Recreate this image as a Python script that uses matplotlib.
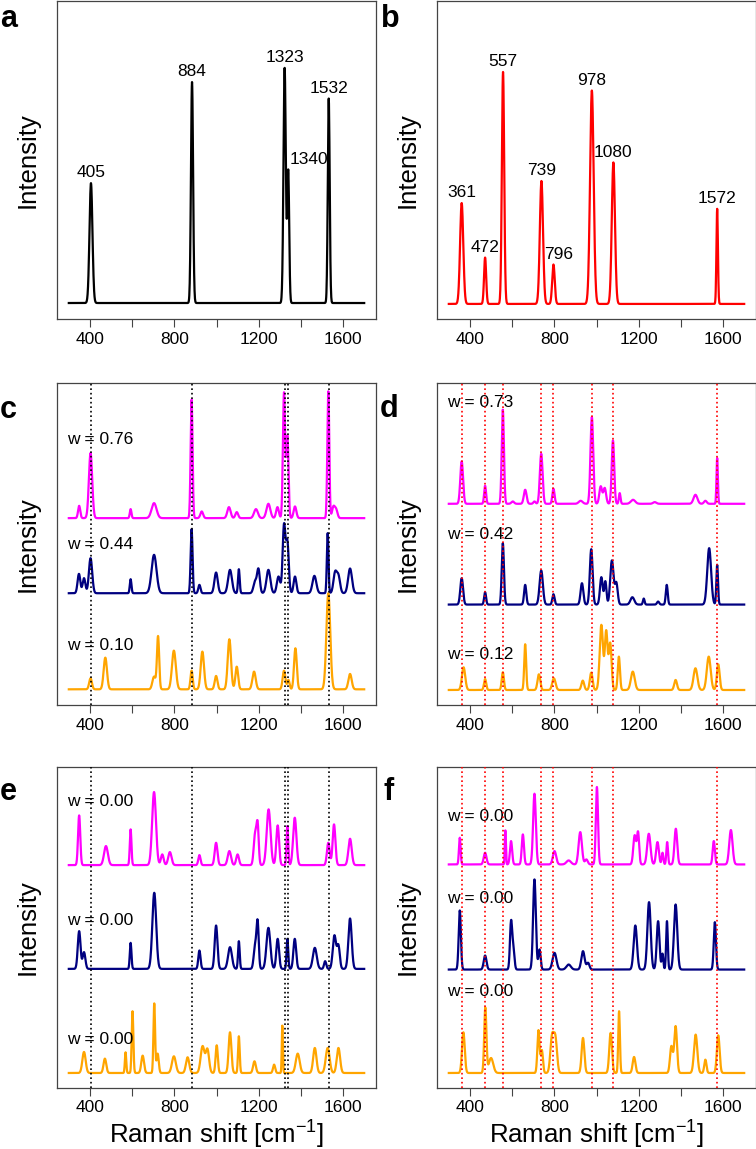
import matplotlib
matplotlib.use('Agg')
import matplotlib.pyplot as plt
import numpy as np

plt.rcParams['font.family'] = ['Liberation Sans', 'DejaVu Sans']
plt.rcParams['mathtext.fontset'] = 'custom'
plt.rcParams['mathtext.rm'] = 'Liberation Sans'

MAGENTA = '#ff00ff'
NAVY = '#000080'
ORANGE = '#ffa500'

# peaks of the two reference spectra (position, relative height, sigma)
REF_A = [(405, 0.51, 7), (884, 0.94, 5), (1323, 1.00, 5.5), (1340, 0.56, 4.5), (1532, 0.87, 4.5)]
REF_B = [(361, 0.435, 7.5), (472, 0.20, 5), (557, 1.00, 5.5), (739, 0.53, 7.5), (796, 0.17, 6),
         (978, 0.92, 8.5), (1080, 0.61, 7.5), (1572, 0.41, 3.5)]
LABELS_A = [405, 884, 1323, 1340, 1532]
LABELS_B = [361, 472, 557, 739, 796, 978, 1080, 1572]

# panel c: mixtures, peaks (position, height, sigma)
C_MAG = [(349, 37, 4), (403, 195, 6), (593, 27, 3), (704, 45, 9), (882, 355, 3.5), (930, 20, 5),
         (1059, 33, 6), (1096, 18, 5), (1187, 27, 7), (1246, 43, 7), (1289, 33, 5), (1320, 375, 4),
         (1336, 245, 4), (1372, 35, 5), (1530, 380, 3.5), (1554, 33, 5), (1567, 25, 5)]
C_NAVY = [(348, 58, 5), (372, 45, 5), (403, 105, 6), (593, 42, 3), (704, 115, 9), (882, 192, 3.5),
          (919, 25, 4), (998, 62, 6), (1064, 70, 7), (1106, 72, 3), (1183, 35, 6), (1199, 70, 5),
          (1246, 70, 7), (1294, 50, 6), (1320, 202, 5), (1336, 150, 5), (1372, 50, 5),
          (1464, 52, 7), (1527, 180, 3), (1562, 60, 6), (1578, 50, 6), (1633, 74, 7)]
C_ORANGE = [(403, 33, 5), (473, 95, 6), (704, 38, 6), (723, 158, 4), (798, 116, 7), (882, 56, 4),
            (933, 113, 6), (998, 40, 5), (1061, 150, 6), (1096, 68, 5), (1178, 53, 6),
            (1320, 56, 5), (1341, 28, 4), (1374, 123, 5), (1530, 288, 7), (1633, 46, 6)]

# panel d
D_MAG = [(361, 127, 5), (472, 54, 3.5), (556, 282, 4), (603, 7, 5), (662, 42, 5), (706, 7, 4),
         (738, 150, 5), (796, 45, 4), (925, 9, 7), (978, 260, 5), (1020, 52, 5), (1039, 47, 5),
         (1078, 190, 4.5), (1110, 32, 3), (1173, 12, 8), (1276, 5, 6), (1469, 27, 7),
         (1516, 9, 5), (1572, 137, 2.5)]
D_NAVY = [(361, 79, 5), (472, 37, 3.5), (556, 184, 4), (662, 59, 4), (738, 102, 6), (796, 31, 4),
          (931, 64, 5), (975, 166, 5), (1023, 82, 5), (1042, 69, 4), (1073, 132, 6), (1094, 64, 5),
          (1170, 22, 7), (1224, 18, 3), (1292, 9, 4), (1333, 59, 3.5), (1534, 169, 7),
          (1572, 119, 3)]
D_ORANGE = [(370, 68, 6), (472, 33, 4), (556, 53, 4), (662, 137, 3.5), (727, 47, 5), (798, 35, 6),
            (935, 28, 5), (975, 52, 5), (1023, 195, 6), (1046, 175, 5), (1065, 140, 5),
            (1106, 100, 4), (1172, 55, 7), (1375, 30, 5), (1469, 65, 7), (1532, 100, 7),
            (1577, 77, 5)]

# panel e: random mixtures
E_MAG = [(349, 149, 4), (476, 57, 7), (593, 107, 3), (704, 219, 7), (743, 32, 5), (779, 39, 6),
         (919, 30, 4), (998, 67, 5), (1061, 42, 6), (1100, 32, 5), (1183, 92, 5), (1195, 115, 4),
         (1247, 167, 7), (1290, 119, 5), (1336, 117, 3), (1371, 142, 6), (1530, 67, 5),
         (1557, 122, 5), (1633, 79, 6)]
E_NAVY = [(349, 113, 5), (372, 50, 5), (593, 78, 3), (705, 228, 7), (919, 55, 4), (998, 130, 5),
          (1064, 65, 7), (1106, 83, 3), (1183, 68, 5), (1195, 135, 4), (1246, 123, 7),
          (1290, 90, 5), (1336, 90, 3), (1371, 90, 5), (1466, 63, 7), (1515, 23, 4),
          (1559, 100, 6), (1578, 68, 5), (1633, 151, 6)]
E_ORANGE = [(372, 63, 6), (471, 43, 5), (569, 62, 2.5), (602, 185, 3), (650, 52, 5), (705, 208, 3),
            (721, 58, 4), (798, 50, 7), (863, 47, 6), (934, 80, 7), (957, 70, 6), (1001, 83, 4),
            (1064, 122, 5), (1106, 110, 3), (1180, 35, 5), (1273, 25, 4), (1312, 142, 2),
            (1385, 58, 7), (1466, 75, 6), (1527, 75, 7), (1578, 75, 6)]

# panel f
F_MAG = [(352, 80, 3), (472, 35, 5), (568, 102, 2), (595, 70, 4), (651, 90, 4), (706, 212, 5),
         (801, 40, 6), (868, 12, 8), (923, 97, 6), (952, 15, 5), (1002, 232, 4), (1181, 87, 5),
         (1197, 95, 4), (1248, 92, 6), (1289, 67, 5), (1313, 35, 3), (1335, 67, 3),
         (1376, 107, 5), (1556, 70, 4), (1637, 103, 6)]
F_NAVY = [(352, 177, 4), (472, 42, 5), (595, 142, 4), (606, 60, 4), (706, 270, 5), (730, 60, 4),
          (801, 50, 7), (868, 15, 8), (936, 55, 6), (960, 20, 5), (1184, 132, 6), (1249, 202, 6),
          (1292, 145, 5), (1313, 47, 3), (1334, 145, 3), (1375, 195, 6), (1561, 142, 4)]
F_ORANGE = [(369, 122, 5), (473, 195, 4), (500, 45, 8), (725, 128, 4), (741, 68, 4), (789, 105, 6),
            (805, 102, 6), (936, 105, 5), (1067, 120, 5), (1107, 185, 3), (1178, 48, 5),
            (1355, 80, 5), (1375, 140, 5), (1470, 115, 6), (1516, 40, 4), (1577, 113, 5)]

W_C = ['w = 0.76', 'w = 0.44', 'w = 0.10']
W_D = ['w = 0.73', 'w = 0.42', 'w = 0.12']
W_E = ['w = 0.00', 'w = 0.00', 'w = 0.00']
W_F = ['w = 0.00', 'w = 0.00', 'w = 0.00']

X = np.arange(300, 1701, 1.0)
BROADEN = 1.3  # the measured spectra look a bit broader than the read-off widths


def spectrum(peaks, scale=1.0, broaden=1.0):
    y = np.zeros_like(X)
    for pos, h, s in peaks:
        y += h * scale * np.exp(-0.5 * ((X - pos) / (s * broaden)) ** 2)
    return y


def style_axes(ax, xlabel=False):
    ax.set_xlim(244, 1756)
    ax.set_xticks(np.arange(400, 1601, 200))
    ax.set_xticklabels(['400', '', '800', '', '1200', '', '1600'])
    ax.set_yticks([])
    ax.tick_params(axis='x', length=6, width=0.8, color='#444444', labelsize=12.5, pad=3)
    for sp in ax.spines.values():
        sp.set_color('#444444')
        sp.set_linewidth(0.9)
    ax.set_ylabel('Intensity', fontsize=18.5)
    ax.yaxis.set_label_coords(-0.055, 0.5)
    if xlabel:
        ax.set_xlabel('Raman shift [cm$^{-1}$]', fontsize=18.5, labelpad=1)


fig = plt.figure(figsize=(7.56, 11.49), dpi=100)
lefts = [57 / 756, 437 / 756]
width = 319 / 756
rows = [(319, 318), (705, 322), (1088, 321)]
axes = []
for r, (bot, h) in enumerate(rows):
    for c in range(2):
        axes.append(fig.add_axes([lefts[c], 1 - bot / 1149, width, h / 1149]))
ax_a, ax_b, ax_c, ax_d, ax_e, ax_f = axes

# a
ax_a.plot(X, spectrum(REF_A), color='black', lw=1.6)
ax_a.set_ylim(-0.068, 1.285)
for pos, h, s in REF_A:
    if pos == 1340:
        ax_a.annotate(str(pos), (pos, h), xytext=(1, 3), textcoords='offset points',
                      ha='left', va='bottom', fontsize=12.5)
    else:
        ax_a.annotate(str(pos), (pos, h), xytext=(0, 2), textcoords='offset points',
                      ha='center', va='bottom', fontsize=12.5)
style_axes(ax_a)

# b
ax_b.plot(X, spectrum(REF_B), color='red', lw=1.6)
ax_b.set_ylim(-0.065, 1.306)
for pos, h, s in REF_B:
    dx = 4 if pos == 796 else 0
    ax_b.annotate(str(pos), (pos, h), xytext=(dx, 2), textcoords='offset points',
                  ha='center', va='bottom', fontsize=12.5)
style_axes(ax_b)


def stacked(ax, traces, bases, labels, label_y, ylim, vlines, vcolor, xlabel):
    for peaks, base, col in zip(traces, bases, [MAGENTA, NAVY, ORANGE]):
        ax.plot(X, base + spectrum(peaks, 0.01, BROADEN), color=col, lw=1.6)
    for v in vlines:
        ax.axvline(v, color=vcolor, ls=(0, (1, 1.7)), lw=1.2, zorder=3)
    for txt, yy in zip(labels, label_y):
        ax.text(290, yy, txt, ha='left', va='center', fontsize=12.5, zorder=2)
    ax.set_ylim(*ylim)
    style_axes(ax, xlabel)


stacked(ax_c, [C_MAG, C_NAVY, C_ORANGE], [5.60, 3.35, 0.47], W_C, [7.95, 4.80, 1.77],
        (0, 9.65), LABELS_A, 'black', False)
stacked(ax_d, [D_MAG, D_NAVY, D_ORANGE], [6.03, 3.01, 0.45], W_D, [9.07, 5.10, 1.52],
        (0, 9.65), LABELS_B, 'red', False)
stacked(ax_e, [E_MAG, E_NAVY, E_ORANGE], [6.68, 3.57, 0.45], W_E, [8.60, 5.02, 1.45],
        (0, 9.62), LABELS_A, 'black', True)
stacked(ax_f, [F_MAG, F_NAVY, F_ORANGE], [6.70, 3.55, 0.45], W_F, [8.15, 5.68, 2.88],
        (0, 9.62), LABELS_B, 'red', True)

# panel letters
for letter, x, y in [('a', 0, 27), ('b', 381, 27), ('c', 0, 418), ('d', 380, 417),
                     ('e', 0, 800), ('f', 383, 800)]:
    fig.text(x / 756, 1 - y / 1149, letter, fontsize=22, fontweight='bold',
             ha='left', va='baseline')

fig.savefig('out.png', dpi=100)
